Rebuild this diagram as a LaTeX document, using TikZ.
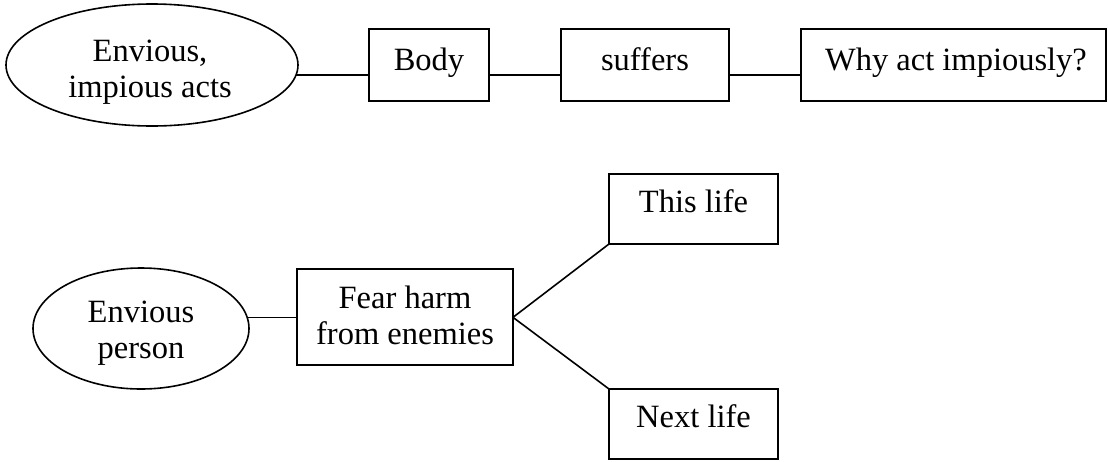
\documentclass[tikz,border=0pt]{standalone}
\usepackage{fontspec}
\setmainfont{Liberation Serif}
\usetikzlibrary{shapes.geometric}
\begin{document}
\begin{tikzpicture}[x=1pt,y=-1pt,
  every node/.style={inner sep=0pt, outer sep=0pt},
  oval/.style={draw, line width=1.6pt, ellipse},
  box/.style={draw, line width=1.6pt, rectangle},
  txt/.style={font=\fontsize{32.5}{36}\selectfont, align=center},
  link/.style={line width=1.6pt}]
\useasboundingbox (0,0) rectangle (1108,461);
% top row: shapes
\node[oval, minimum width=292, minimum height=122] (e1) at (152,65) {};
\node[box, minimum width=120, minimum height=72] (body) at (429,65) {};
\node[box, minimum width=168, minimum height=72] (suf) at (645,65) {};
\node[box, minimum width=305, minimum height=72] (why) at (953.5,65) {};
% top row: labels
\node[txt] (e1t) at (150,72.4) {Envious,\\impious acts};
\node[txt, anchor=base] (bodyt) at (429,70) {Body};
\node[txt, anchor=base] (suft) at (645,70) {suffers};
\node[txt, anchor=base] (whyt) at (956,70) {Why act impiously?};
% top row: connectors
\coordinate (row) at (e1.-4.8);
\draw[link] (row) -- (row -| body.west);
\draw[link] (row -| body.east) -- (row -| suf.west);
\draw[link] (row -| suf.east) -- (row -| why.west);
% bottom group: shapes
\node[oval, minimum width=216, minimum height=121] (e2) at (141,328.5) {};
\node[box, minimum width=216, minimum height=96] (fear) at (405,317) {};
\node[box, minimum width=169, minimum height=70] (this) at (693.5,209) {};
\node[box, minimum width=169, minimum height=70] (next) at (693.5,424) {};
% bottom group: labels
\node[txt] (e2t) at (141,333.4) {Envious\\person};
\node[txt] (feart) at (405,315) {Fear harm\\from enemies};
\node[txt, anchor=base] (thist) at (693.5,212) {This life};
\node[txt, anchor=base] (nextt) at (693.5,427) {Next life};
% bottom group: connectors
\coordinate (mid) at (e2.6.2);
\coordinate (fork) at (mid -| fear.east);
\draw[link] (mid) -- (mid -| fear.west);
\draw[link] (fork) -- (this.south west);
\draw[link] (fork) -- (next.north west);
\end{tikzpicture}
\end{document}
